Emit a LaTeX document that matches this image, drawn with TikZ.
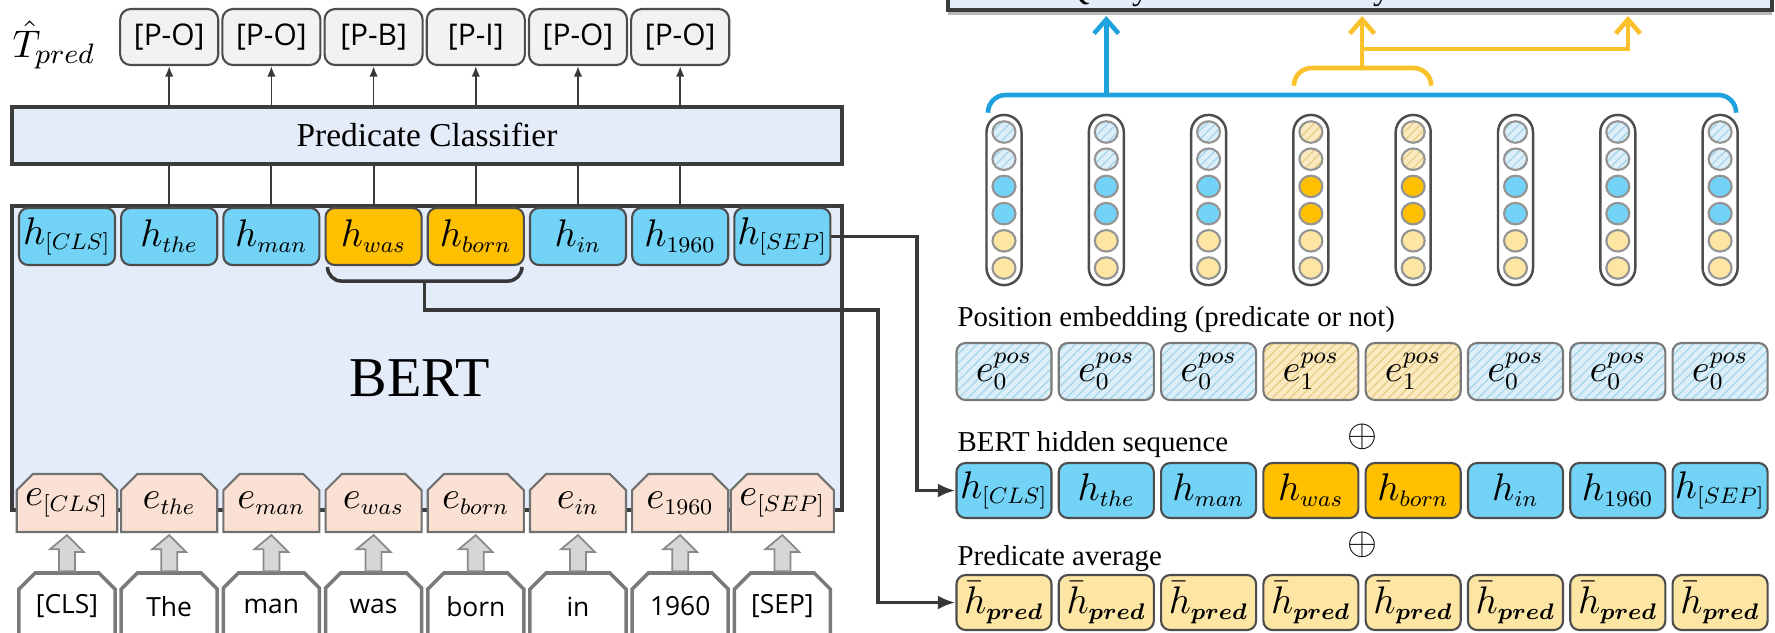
\documentclass[tikz,border=0pt]{standalone}
\usepackage{fontspec}
\usepackage{amsmath}
\usepackage{bm}
\setmainfont{Liberation Serif}
\newfontfamily\tagsans{Open Sans}
\usetikzlibrary{calc,arrows.meta,patterns.meta,shapes.geometric,shapes.misc}

% compact indices for the token vectors
\newcommand{\tinyidx}[1]{\scalebox{0.8}{$\scriptstyle #1$}}
\newcommand{\posidxlabel}[1]{\scalebox{0.85}{$\scriptstyle #1$}}

\definecolor{panelfill}{HTML}{E4ECFA}
\definecolor{panelline}{HTML}{3C3C3C}
\definecolor{hblue}{HTML}{72D3F6}
\definecolor{horange}{HTML}{FFC000}
\definecolor{hcream}{HTML}{FDE5A4}
\definecolor{epeach}{HTML}{FBE1D3}
\definecolor{tagfill}{HTML}{F2F2F2}
\definecolor{boxline}{HTML}{4D4D4D}
\definecolor{wirecol}{HTML}{383838}
\definecolor{qblue}{HTML}{1EA2DD}
\definecolor{kvyellow}{HTML}{F9C22B}
\definecolor{bluehatchbg}{HTML}{DCEFF8}
\definecolor{bluehatchln}{HTML}{A3D4EA}
\definecolor{yelhatchbg}{HTML}{FBEAC0}
\definecolor{yelhatchln}{HTML}{E6CC85}
\definecolor{blockgrey}{HTML}{D6D6D6}
\definecolor{blockline}{HTML}{8A8A8A}
\definecolor{tokline}{HTML}{7A7A7A}

\tikzset{
  panel/.style={draw=panelline, fill=panelfill, line width=1pt, inner sep=0pt},
  cell/.style={draw=boxline, line width=0.6pt, rounded corners=2.6pt, inner sep=0pt,
    minimum width=0.96cm, minimum height=0.57cm, font=\fontsize{11}{11}\selectfont},
  tagbox/.style={draw=boxline, fill=tagfill, line width=0.6pt, rounded corners=3pt, inner sep=0pt,
    minimum width=0.98cm, minimum height=0.56cm, font=\tagsans\fontsize{8.5}{8.5}\selectfont},
  ebox/.style={chamfered rectangle, chamfered rectangle corners={north west,north east},
    chamfered rectangle xsep=2.4pt, chamfered rectangle ysep=2.2pt,
    draw=boxline!80, fill=epeach, line width=0.6pt, inner sep=0pt,
    minimum width=0.96cm, minimum height=0.58cm, font=\fontsize{11}{11}\selectfont},
  tokbox/.style={ebox, fill=white, draw=tokline, line width=1pt, minimum height=0.67cm,
    font=\tagsans\fontsize{7.5}{7.5}\selectfont},
  blockarrow/.style={fill=blockgrey, draw=blockline, line width=0.5pt},
  wire/.style={draw=wirecol, line width=1pt},
  feed/.style={wire, -{Latex[length=5pt,width=4pt]}},
  tagarrow/.style={draw=wirecol, line width=0.5pt, -{Latex[length=3pt,width=2.4pt]}},
  capsule/.style={draw=boxline, fill=white, line width=0.7pt, rounded corners=4.9pt,
    minimum width=0.35cm, minimum height=1.70cm, inner sep=0pt},
  dot/.style={ellipse, draw=boxline!60, line width=0.6pt, minimum width=0.23cm,
    minimum height=0.215cm, inner sep=0pt},
  bluehatch/.style={preaction={fill=bluehatchbg},
    pattern={Lines[angle=45,distance=1.8pt,line width=0.35pt]}, pattern color=bluehatchln},
  yelhatch/.style={preaction={fill=yelhatchbg},
    pattern={Lines[angle=45,distance=1.8pt,line width=0.35pt]}, pattern color=yelhatchln},
  caption/.style={anchor=west, inner sep=0pt, font=\fontsize{8.2}{8.2}\selectfont},
  qbrace/.style={draw=qblue, line width=1.3pt, rounded corners=5pt},
  kvbrace/.style={draw=kvyellow, line width=1.3pt, rounded corners=5pt},
  qarrow/.style={draw=qblue, line width=1.3pt, -{Straight Barb[length=4pt,width=7pt]}},
  kvarrow/.style={draw=kvyellow, line width=1.3pt, -{Straight Barb[length=4pt,width=7pt]}},
}

\begin{document}
\begin{tikzpicture}[x=0.01cm,y=-0.01cm]
\useasboundingbox (0,0) rectangle (1775,632);
\clip (0,0) rectangle (1775,632);
\fill[white] (0,0) rectangle (1775,632);

% ---------- encoder and predicate tagger ----------
\node[panel, anchor=north west, minimum width=8.30cm, minimum height=3.04cm] (bert) at (10,204) {};
\node[font=\fontsize{16}{16}\selectfont] (bertname) at (420,378) {BERT};
\node[panel, anchor=north west, minimum width=8.30cm, minimum height=0.57cm,
      font=\fontsize{9.5}{9.5}\selectfont] (cls) at (10,105) {Predicate Classifier};
\coordinate (tagrow) at (0,37);
\node[font=\fontsize{11}{11}\selectfont] (tpred) at (54,45) {$\hat{T}_{pred}$};

\foreach \i/\w/\tok in {1/{[CLS]}/{[CLS]},2/the/The,3/man/man,4/was/was,5/born/born,6/in/in,7/1960/1960,8/{[SEP]}/{[SEP]}}{
  \pgfmathsetmacro{\cx}{67+102.2*(\i-1)}
  \ifnum\i=4 \def\colfill{horange}\else\ifnum\i=5 \def\colfill{horange}\else\def\colfill{hblue}\fi\fi
  \node[cell, fill=\colfill] (h\i) at (\cx,236.5) {$h_{\tinyidx{\w}}$};
  \node[ebox] (e\i) at (\cx,503) {$e_{\tinyidx{\w}}$};
  \node[tokbox] (t\i) at (\cx,606.5) {\tok};
  \draw[blockarrow] ($(t\i.north)+(-8,0)$) -- ++(0,-22) -- ++(-9,0)
    -- ($(e\i.south)+(0,2)$) -- ++(17,17) -- ++(-9,0) -- ($(t\i.north)+(8,0)$) -- cycle;
}

\foreach \i/\lab in {2/{[P-O]},3/{[P-O]},4/{[P-B]},5/{[P-I]},6/{[P-O]},7/{[P-O]}}{
  \draw[wire, line width=0.6pt] (h\i.north) -- (h\i.north |- cls.south);
  \node[tagbox] (p\i) at (h\i |- tagrow) {\lab};
  \draw[tagarrow] (p\i |- cls.north) -- (p\i.south);
}

% bracket over the predicate tokens
\draw[wire, rounded corners=4pt] ($(h4.south west)+(3,4)$) -- ($(h4.south west)+(3,15)$)
  -- ($(h5.south east)+(-3,15)$) -- ($(h5.south east)+(-3,4)$);
\coordinate (predjoin) at ($(h4.south east)!0.5!(h5.south west)+(0,15)$);

% ---------- attention input side ----------
\fill[gray!55] (948,12) rectangle (1772,15);
\node[panel, anchor=south west, minimum width=8.24cm, minimum height=0.8cm] (attn) at (946,12) {};
\node[anchor=base, inner sep=0pt, font=\fontsize{9.5}{9.5}\selectfont] (qtext) at (1107,-1) {Query};
\node[anchor=base, inner sep=0pt, font=\fontsize{9.5}{9.5}\selectfont] (ktext) at (1362,-1) {Key};
\node[anchor=base, inner sep=0pt, font=\fontsize{9.5}{9.5}\selectfont] (vtext) at (1628,-1) {Value};

\node[caption] (poscap) at (957,320) {Position embedding (predicate or not)};
\node[caption] (hidcap) at (957,445) {BERT hidden sequence};
\node[caption] (avgcap) at (957,559) {Predicate average};
\node[font=\fontsize{11}{11}\selectfont] (plusa) at (1362,437) {$\oplus$};
\node[font=\fontsize{11}{11}\selectfont] (plusb) at (1362,545) {$\oplus$};

\foreach \j/\w in {1/{[CLS]},2/the,3/man,4/was,5/born,6/in,7/1960,8/{[SEP]}}{
  \pgfmathsetmacro{\cx}{1004+102.3*(\j-1)}
  \ifnum\j=4 \def\colfill{horange}\def\posidx{1}\tikzset{colhatch/.style={yelhatch}}%
  \else\ifnum\j=5 \def\colfill{horange}\def\posidx{1}\tikzset{colhatch/.style={yelhatch}}%
  \else\def\colfill{hblue}\def\posidx{0}\tikzset{colhatch/.style={bluehatch}}\fi\fi
  \node[capsule] (col\j) at (\cx,200) {};
  \node[dot, colhatch] (c\j-1) at (\cx,132) {};
  \node[dot, colhatch] (c\j-2) at (\cx,159.2) {};
  \node[dot, fill=\colfill] (c\j-3) at (\cx,186.4) {};
  \node[dot, fill=\colfill] (c\j-4) at (\cx,213.6) {};
  \node[dot, fill=hcream] (c\j-5) at (\cx,240.8) {};
  \node[dot, fill=hcream] (c\j-6) at (\cx,268) {};
  \node[cell, colhatch, draw=boxline!75, minimum width=0.95cm] (pe\j) at (\cx,371.5)
    {$e^{\posidxlabel{pos}}_{\posidxlabel{\posidx}}$};
  \node[cell, fill=\colfill, minimum width=0.95cm, minimum height=0.55cm] (rh\j) at (\cx,490.5)
    {$h_{\tinyidx{\w}}$};
  \node[cell, fill=hcream, minimum width=0.95cm, minimum height=0.55cm] (bar\j) at (\cx,602.5)
    {$\bar{h}_{\tinyidx{\bm{pred}}}$};
}

% query bracket over all tokens, key/value bracket over the predicate
\coordinate (qline) at (0,95);
\coordinate (kvline) at (0,68);
\coordinate (kvsplit) at (0,49);
\coordinate (vcol) at (1628,0);
\draw[qbrace] ($(col1.north)+(-16,-3)$) -- ($(col1.north |- qline)+(-16,0)$)
  -- ($(col8.north |- qline)+(16,0)$) -- ($(col8.north)+(16,-3)$);
\draw[qarrow] (col2.north |- qline) -- ($(attn.south -| col2.north)+(0,4)$);
\draw[kvbrace] ($(col4.north)+(-17,-30)$) -- ($(col4.north |- kvline)+(-17,0)$)
  -- ($(col5.north |- kvline)+(18,0)$) -- ($(col5.north)+(18,-30)$);
\coordinate (kvmid) at ($(col4.north |- kvline)!0.5!(col5.north |- kvline)$);
\draw[kvarrow] (kvmid) -- ($(attn.south -| kvmid)+(0,4)$);
\draw[kvarrow] (kvmid |- kvsplit) -| ($(attn.south -| vcol)+(0,4)$);

% ---------- hand-over from the encoder ----------
\coordinate (seprise) at (917,0);
\coordinate (predrise) at (878,310);
\draw[feed] (h8.east) -- (h8.east -| seprise) |- (rh1.west);
\draw[feed] (predjoin) |- (predrise) |- (bar1.west);
\end{tikzpicture}
\end{document}
